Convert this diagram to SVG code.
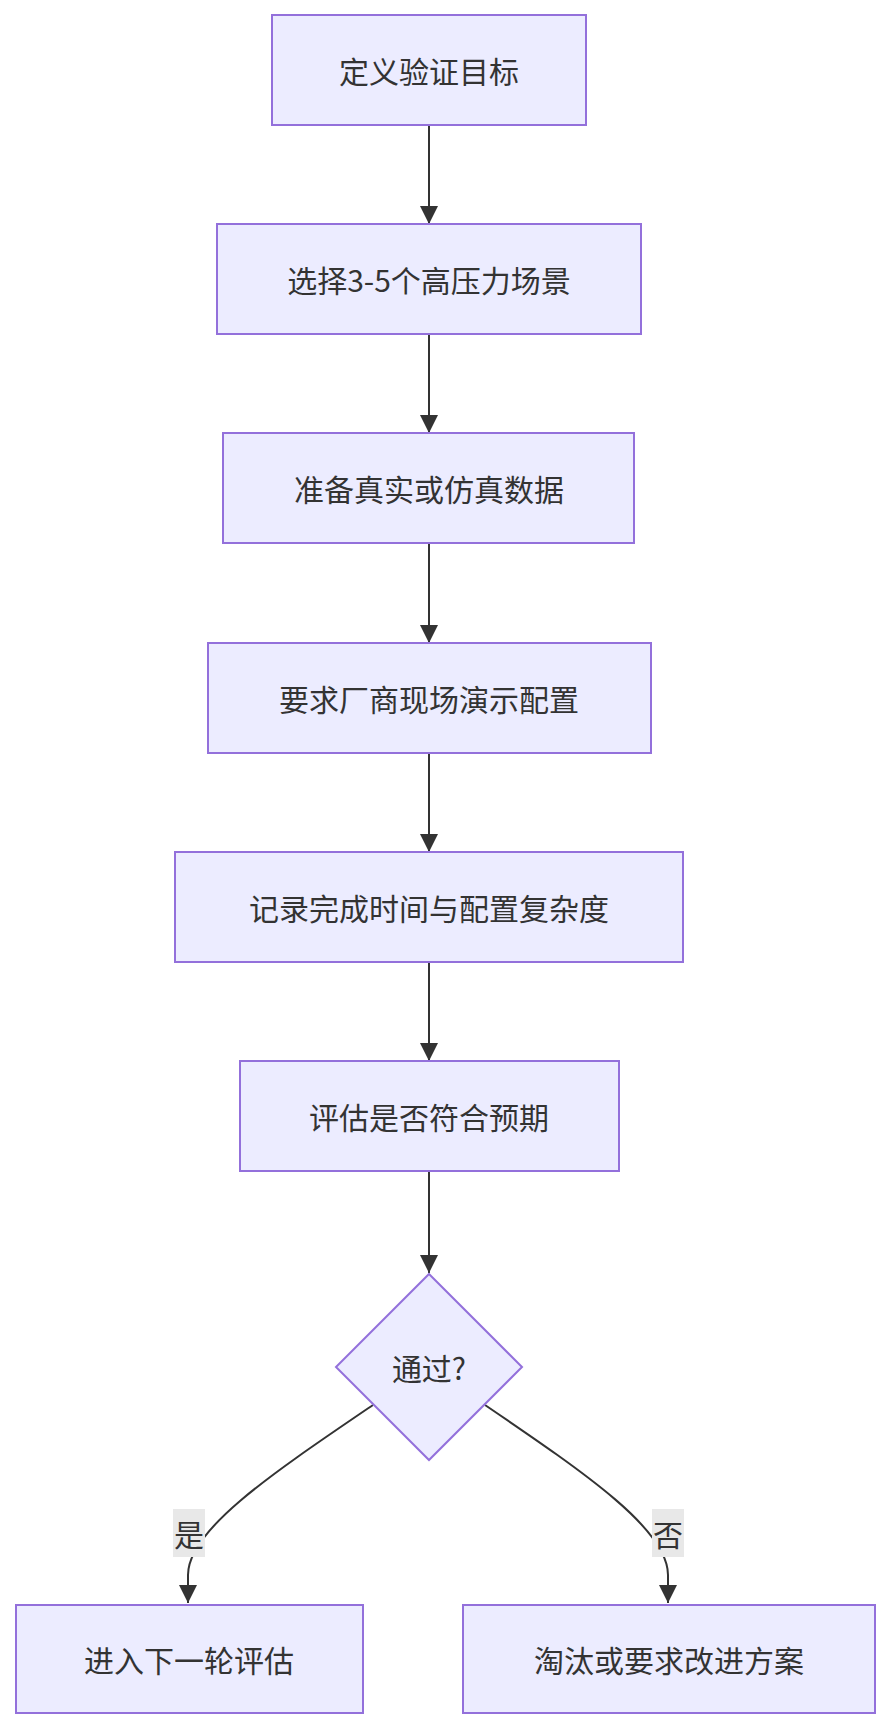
<svg xmlns="http://www.w3.org/2000/svg" width="884" height="1719" viewBox="0 0 884 1719">
<style>
.n{fill:#ECECFF;stroke:#9370DB;stroke-width:2}
.t{font-family:"Noto Sans CJK SC","Liberation Sans",sans-serif;font-size:30px;fill:#333;text-anchor:middle;dominant-baseline:central}
.e{fill:none;stroke:#333;stroke-width:2}
.lb{fill:#e8e8e8}
</style>
<defs><marker id="a" viewBox="0 0 10 10" refX="9" refY="5" markerWidth="10" markerHeight="10" markerUnits="userSpaceOnUse" orient="auto"><path d="M0,0L10,5L0,10z" fill="#333"/></marker>
<marker id="b" viewBox="0 0 10 10" refX="10" refY="5" markerWidth="18" markerHeight="18" markerUnits="userSpaceOnUse" orient="auto"><path d="M0,0L10,5L0,10z" fill="#333"/></marker></defs>
<g id="edges">
<path class="e" marker-end="url(#b)" d="M429,125V224"/>
<path class="e" marker-end="url(#b)" d="M429,334V433"/>
<path class="e" marker-end="url(#b)" d="M429,543V643"/>
<path class="e" marker-end="url(#b)" d="M429,753V852"/>
<path class="e" marker-end="url(#b)" d="M429,962V1061"/>
<path class="e" marker-end="url(#b)" d="M429,1171V1273"/>
<path class="e" marker-end="url(#b)" d="M373,1405C270,1475 188,1530 188,1575V1603"/>
<path class="e" marker-end="url(#b)" d="M485,1405C588,1475 668,1530 668,1575V1603"/>
<rect class="lb" x="173" y="1509" width="32" height="48"/>
<text class="t" x="189" y="1533">是</text>
<rect class="lb" x="652" y="1509" width="32" height="48"/>
<text class="t" x="668" y="1533">否</text>
</g>
<g id="n1"><rect class="n" x="272" y="15" width="314" height="110"/><text class="t" x="429" y="70">定义验证目标</text></g>
<g id="n2"><rect class="n" x="217" y="224" width="424" height="110"/><text class="t" x="429" y="279">选择3-5个高压力场景</text></g>
<g id="n3"><rect class="n" x="223" y="433" width="411" height="110"/><text class="t" x="429" y="488">准备真实或仿真数据</text></g>
<g id="n4"><rect class="n" x="208" y="643" width="443" height="110"/><text class="t" x="429" y="698">要求厂商现场演示配置</text></g>
<g id="n5"><rect class="n" x="175" y="852" width="508" height="110"/><text class="t" x="429" y="907">记录完成时间与配置复杂度</text></g>
<g id="n6"><rect class="n" x="240" y="1061" width="379" height="110"/><text class="t" x="429" y="1116">评估是否符合预期</text></g>
<g id="d"><polygon class="n" points="429,1274 522,1367 429,1460 336,1367"/><text class="t" x="429" y="1367">通过?</text></g>
<g id="n7"><rect class="n" x="16" y="1605" width="347" height="108"/><text class="t" x="189" y="1659">进入下一轮评估</text></g>
<g id="n8"><rect class="n" x="463" y="1605" width="412" height="108"/><text class="t" x="669" y="1659">淘汰或要求改进方案</text></g>
</svg>
